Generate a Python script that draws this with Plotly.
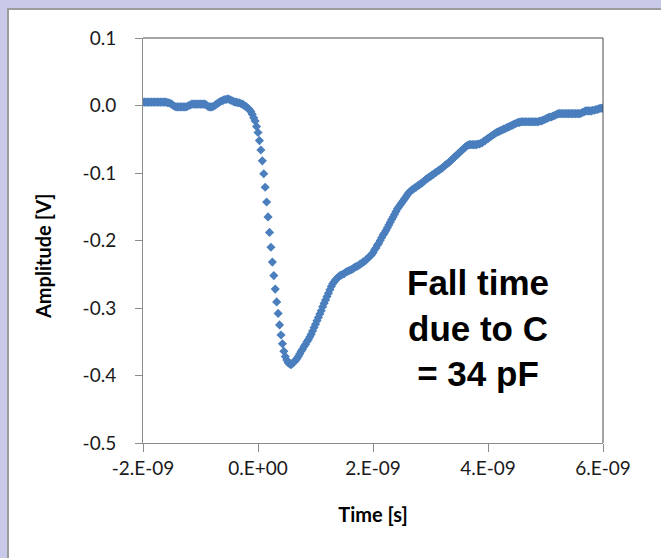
import numpy as np
import plotly.graph_objects as go

# ---- data: (time in ns, amplitude in V) ----
pre = [(-2.000, 0.005), (-1.975, 0.005), (-1.950, 0.005), (-1.925, 0.005), (-1.900, 0.005),
       (-1.875, 0.005), (-1.850, 0.005), (-1.825, 0.005), (-1.800, 0.005), (-1.775, 0.005),
       (-1.750, 0.005), (-1.725, 0.005), (-1.700, 0.005), (-1.675, 0.005), (-1.650, 0.005),
       (-1.625, 0.005), (-1.600, 0.005), (-1.575, 0.004), (-1.550, 0.004), (-1.525, 0.003),
       (-1.500, 0.002), (-1.475, 0.000), (-1.450, -0.001), (-1.425, -0.002), (-1.400, -0.002),
       (-1.375, -0.002), (-1.350, -0.002), (-1.325, -0.002), (-1.300, -0.002), (-1.275, -0.002),
       (-1.250, -0.002), (-1.225, -0.001), (-1.200, 0.000), (-1.175, 0.001), (-1.150, 0.002),
       (-1.125, 0.002), (-1.100, 0.002), (-1.075, 0.002), (-1.050, 0.002), (-1.025, 0.002),
       (-1.000, 0.002), (-0.975, 0.002), (-0.950, 0.002), (-0.925, 0.002), (-0.900, 0.001),
       (-0.875, -0.001), (-0.850, -0.002), (-0.825, -0.002), (-0.800, -0.002), (-0.775, -0.001),
       (-0.750, 0.000), (-0.725, 0.002), (-0.700, 0.003), (-0.675, 0.005), (-0.650, 0.006),
       (-0.625, 0.007), (-0.600, 0.008), (-0.575, 0.009), (-0.550, 0.009), (-0.525, 0.010),
       (-0.500, 0.009), (-0.475, 0.008), (-0.450, 0.007), (-0.425, 0.006), (-0.400, 0.005),
       (-0.375, 0.005), (-0.350, 0.004), (-0.325, 0.004), (-0.300, 0.003), (-0.275, 0.002),
       (-0.250, 0.001), (-0.225, -0.001), (-0.200, -0.002), (-0.175, -0.004), (-0.150, -0.006),
       (-0.125, -0.009)]

fall = [(-0.100, -0.013), (-0.075, -0.018), (-0.050, -0.023), (-0.025, -0.031), (0.000, -0.040),
        (0.025, -0.052), (0.050, -0.066), (0.075, -0.082), (0.100, -0.101), (0.125, -0.121),
        (0.150, -0.143), (0.175, -0.165), (0.200, -0.188), (0.225, -0.210), (0.250, -0.232),
        (0.275, -0.252), (0.300, -0.272), (0.325, -0.291), (0.350, -0.308), (0.375, -0.325),
        (0.400, -0.340), (0.425, -0.353), (0.450, -0.364), (0.475, -0.372), (0.500, -0.377),
        (0.525, -0.381), (0.550, -0.383), (0.575, -0.384)]

rise = [(0.600, -0.382), (0.625, -0.380), (0.650, -0.378), (0.675, -0.375), (0.700, -0.372),
        (0.725, -0.368), (0.750, -0.364), (0.775, -0.361), (0.800, -0.357), (0.825, -0.354),
        (0.850, -0.350), (0.875, -0.347), (0.900, -0.343), (0.925, -0.339), (0.950, -0.334),
        (0.975, -0.329), (1.000, -0.324), (1.025, -0.319), (1.050, -0.314), (1.075, -0.309),
        (1.100, -0.304), (1.125, -0.298), (1.150, -0.293), (1.175, -0.288), (1.200, -0.283),
        (1.225, -0.278), (1.250, -0.273), (1.275, -0.268), (1.300, -0.264), (1.325, -0.261),
        (1.350, -0.258), (1.375, -0.256), (1.400, -0.254), (1.425, -0.252), (1.450, -0.251),
        (1.475, -0.250), (1.500, -0.249), (1.525, -0.247), (1.550, -0.246), (1.575, -0.245),
        (1.600, -0.244), (1.625, -0.243), (1.650, -0.242), (1.675, -0.240), (1.700, -0.239),
        (1.725, -0.238), (1.750, -0.237), (1.775, -0.235), (1.800, -0.234), (1.825, -0.232),
        (1.850, -0.231), (1.875, -0.229), (1.900, -0.227), (1.925, -0.225), (1.950, -0.223),
        (1.975, -0.221), (2.000, -0.218), (2.025, -0.214), (2.050, -0.211), (2.075, -0.207),
        (2.100, -0.204), (2.125, -0.200), (2.150, -0.196), (2.175, -0.192), (2.200, -0.189),
        (2.225, -0.185), (2.250, -0.181), (2.275, -0.177), (2.300, -0.173), (2.325, -0.169),
        (2.350, -0.165), (2.375, -0.161), (2.400, -0.157), (2.425, -0.153), (2.450, -0.150),
        (2.475, -0.147), (2.500, -0.144), (2.525, -0.141), (2.550, -0.138), (2.575, -0.135),
        (2.600, -0.132), (2.625, -0.129), (2.650, -0.127), (2.675, -0.125), (2.700, -0.124),
        (2.725, -0.122), (2.750, -0.121), (2.775, -0.119), (2.800, -0.118), (2.825, -0.116),
        (2.850, -0.115), (2.875, -0.113), (2.900, -0.111), (2.925, -0.109), (2.950, -0.108),
        (2.975, -0.106), (3.000, -0.105), (3.025, -0.103), (3.050, -0.102), (3.075, -0.100),
        (3.100, -0.099), (3.125, -0.097), (3.150, -0.096), (3.175, -0.094), (3.200, -0.093),
        (3.225, -0.091), (3.250, -0.089), (3.275, -0.087), (3.300, -0.086), (3.325, -0.084),
        (3.350, -0.082), (3.375, -0.080), (3.400, -0.078), (3.425, -0.076), (3.450, -0.074),
        (3.475, -0.072), (3.500, -0.070), (3.525, -0.068), (3.550, -0.066), (3.575, -0.064),
        (3.600, -0.062), (3.625, -0.060), (3.650, -0.059), (3.675, -0.058), (3.700, -0.058),
        (3.725, -0.058), (3.750, -0.058), (3.775, -0.058), (3.800, -0.058), (3.825, -0.057),
        (3.850, -0.057), (3.875, -0.056), (3.900, -0.055), (3.925, -0.053), (3.950, -0.052),
        (3.975, -0.050), (4.000, -0.049), (4.025, -0.047), (4.050, -0.046), (4.075, -0.044),
        (4.100, -0.043), (4.125, -0.041), (4.150, -0.040), (4.175, -0.039), (4.200, -0.038),
        (4.225, -0.037), (4.250, -0.036), (4.275, -0.035), (4.300, -0.034), (4.325, -0.033),
        (4.350, -0.032), (4.375, -0.031), (4.400, -0.030), (4.425, -0.029), (4.450, -0.028),
        (4.475, -0.027), (4.500, -0.026), (4.525, -0.025), (4.550, -0.025), (4.575, -0.024),
        (4.600, -0.024), (4.625, -0.024), (4.650, -0.024), (4.675, -0.024), (4.700, -0.024),
        (4.725, -0.024), (4.750, -0.024), (4.775, -0.024), (4.800, -0.024), (4.825, -0.024),
        (4.850, -0.024), (4.875, -0.024), (4.900, -0.023), (4.925, -0.023), (4.950, -0.022),
        (4.975, -0.021), (5.000, -0.020), (5.025, -0.019), (5.050, -0.018), (5.075, -0.017),
        (5.100, -0.017), (5.125, -0.016), (5.150, -0.015), (5.175, -0.014), (5.200, -0.013),
        (5.225, -0.012), (5.250, -0.012), (5.275, -0.012), (5.300, -0.012), (5.325, -0.012),
        (5.350, -0.012), (5.375, -0.012), (5.400, -0.012), (5.425, -0.012), (5.450, -0.012),
        (5.475, -0.012), (5.500, -0.012), (5.525, -0.012), (5.550, -0.012), (5.575, -0.012),
        (5.600, -0.012), (5.625, -0.011), (5.650, -0.010), (5.675, -0.009), (5.700, -0.008),
        (5.725, -0.008), (5.750, -0.008), (5.775, -0.008), (5.800, -0.008), (5.825, -0.007),
        (5.850, -0.007), (5.875, -0.006), (5.900, -0.006), (5.925, -0.005), (5.950, -0.004),
        (5.975, -0.004), (6.000, -0.004)]

x_tickvals = [-2e-9, 0.0, 2e-9, 4e-9, 6e-9]
x_ticktext = ["-2.E-09", "0.E+00", "2.E-09", "4.E-09", "6.E-09"]
y_tickvals = [0.1, 0.0, -0.1, -0.2, -0.3, -0.4, -0.5]
y_ticktext = ["0.1", "0.0", "-0.1", "-0.2", "-0.3", "-0.4", "-0.5"]

samples = pre + fall + rise
t_all = np.array([p[0] for p in samples]) * 1e-9
v_all = np.array([p[1] for p in samples])

fig = go.Figure()
fig.add_trace(go.Scatter(
    x=t_all, y=v_all, mode="markers",
    marker=dict(symbol="diamond", size=7, color="#4a7ebd", line=dict(width=0)),
    showlegend=False, hoverinfo="skip"))

# panel geometry in pixels -> paper coords
L, R, T, B = 143, 603, 38, 443
W, H = R - L, B - T
def px(x): return (x - L) / W
def py(y): return (B - y) / H

fig.add_shape(type="rect", xref="paper", yref="paper",
              x0=px(8), x1=px(680), y0=py(580), y1=py(9),
              fillcolor="white", line=dict(color="#9c9c9c", width=2), layer="below")
fig.add_shape(type="line", xref="paper", yref="paper", x0=0, x1=1, y0=1, y1=1,
              line=dict(color="#4d4d4d", width=1))
fig.add_shape(type="line", xref="paper", yref="paper", x0=1, x1=1, y0=0, y1=1,
              line=dict(color="#4d4d4d", width=1))

fig.add_annotation(xref="paper", yref="paper", x=px(478), y=py(328),
                   text="<b>Fall time<br>due to C<br>= 34 pF</b>", showarrow=False,
                   align="center", xanchor="center", yanchor="middle",
                   font=dict(family="Liberation Sans, Arial", size=35, color="black"))

axis_font = dict(family="Lato", size=19, color="#1a1a1a")
title_font = dict(family="Lato", size=20, color="black")

# y-axis title (placed like the reference, slightly below the plot centre)
fig.add_annotation(xref="paper", yref="paper", x=px(43), y=py(256),
                   text="<b>Amplitude [V]</b>", textangle=-90, showarrow=False,
                   xanchor="center", yanchor="middle", font=title_font)

fig.update_xaxes(range=[-2e-9, 6e-9], tickvals=x_tickvals, ticktext=x_ticktext,
                 showline=True, linecolor="#8c8c8c", linewidth=1,
                 ticks="outside", ticklen=8, tickcolor="#8c8c8c",
                 showgrid=False, zeroline=False, tickfont=axis_font,
                 title=dict(text="<b>Time [s]</b>", font=title_font, standoff=30))
fig.update_yaxes(range=[-0.5, 0.1], tickvals=y_tickvals, ticktext=y_ticktext,
                 showline=True, linecolor="#8c8c8c", linewidth=1,
                 ticks="outside", ticklen=7, tickcolor="#8c8c8c",
                 showgrid=False, zeroline=False, tickfont=axis_font,
                 ticklabelstandoff=15)

fig.update_layout(width=661, height=558, autosize=False,
                  margin=dict(l=L, r=661 - R, t=T, b=558 - B),
                  paper_bgcolor="#c9c9e9", plot_bgcolor="white")

fig.write_html("out.html")
